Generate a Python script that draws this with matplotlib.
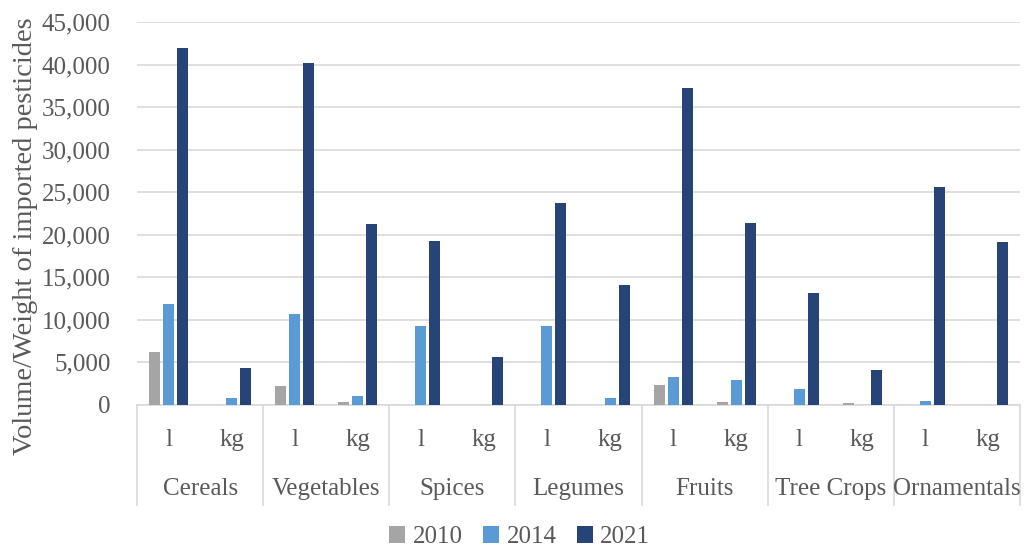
import numpy as np
import matplotlib
matplotlib.use("Agg")
import matplotlib.pyplot as plt

plt.rcParams['font.family'] = ['Liberation Serif', 'DejaVu Serif']

groups = ['Cereals', 'Vegetables', 'Spices', 'Legumes', 'Fruits', 'Tree Crops', 'Ornamentals']
units = ['l', 'kg']
years = ['2010', '2014', '2021']
colors = ['#A5A5A5', '#5B9BD5', '#264478']

# order: (group, unit) pairs -> Cereals l, Cereals kg, Vegetables l, ...
v2010 = [6200, 0, 2200, 300, 0, 0, 0, 0, 2300, 300, 0, 250, 0, 0]
v2014 = [11900, 800, 10700, 1000, 9300, 0, 9300, 850, 3300, 2900, 1900, 0, 450, 0]
v2021 = [42000, 4300, 40200, 21300, 19300, 5600, 23700, 14100, 37300, 21400, 13200, 4100, 25600, 19200]

text_col = '#595959'
grid_col = '#D9D9D9'

fig = plt.figure(figsize=(10.27, 5.49), dpi=100)
ax = fig.add_axes([0.1334, 0.2623, 0.8598, 0.6976])

x = np.arange(len(v2021))
step = 0.222
w = 0.175
for i, (vals, c, lab) in enumerate(zip([v2010, v2014, v2021], colors, years)):
    ax.bar(x + (i - 1) * step, vals, width=w, color=c, label=lab, zorder=3)

ax.set_xlim(-0.5, len(x) - 0.5)
ax.set_ylim(0, 45000)
ax.set_yticks(np.arange(0, 45001, 5000))
ax.set_yticklabels([f'{t:,}' for t in range(0, 45001, 5000)])
ax.yaxis.grid(True, color=grid_col, linewidth=1.2, zorder=0)
ax.tick_params(axis='y', length=0, pad=19, labelsize=18, labelcolor=text_col)
ax.set_xticks([])
for s in ['top', 'right', 'left']:
    ax.spines[s].set_visible(False)
ax.spines['bottom'].set_color(grid_col)
ax.spines['bottom'].set_linewidth(1.2)

fig.text(26 / 1027, 1 - 236 / 549, 'Volume/Weight of imported pesticides', rotation=90,
         ha='center', va='center', fontsize=20.5, color=text_col)

trans = ax.get_xaxis_transform()
for b in np.arange(-0.5, len(x), 2):
    ax.plot([b, b], [0, -0.261], transform=trans, color=grid_col, lw=1.2, clip_on=False)
for k in x:
    ax.text(k, -0.091, units[k % 2], transform=trans, ha='center', va='center',
            fontsize=18, color=text_col)
for g, name in enumerate(groups):
    ax.text(2 * g + 0.5, -0.219, name, transform=trans, ha='center', va='center',
            fontsize=18, color=text_col)

fig.legend(loc='center', bbox_to_anchor=(0.506, 0.022), ncol=3, frameon=False,
           fontsize=18, labelcolor=text_col, handlelength=0.65, handleheight=0.65,
           handletextpad=0.3, columnspacing=0.8)

fig.savefig('out.png', dpi=100)
